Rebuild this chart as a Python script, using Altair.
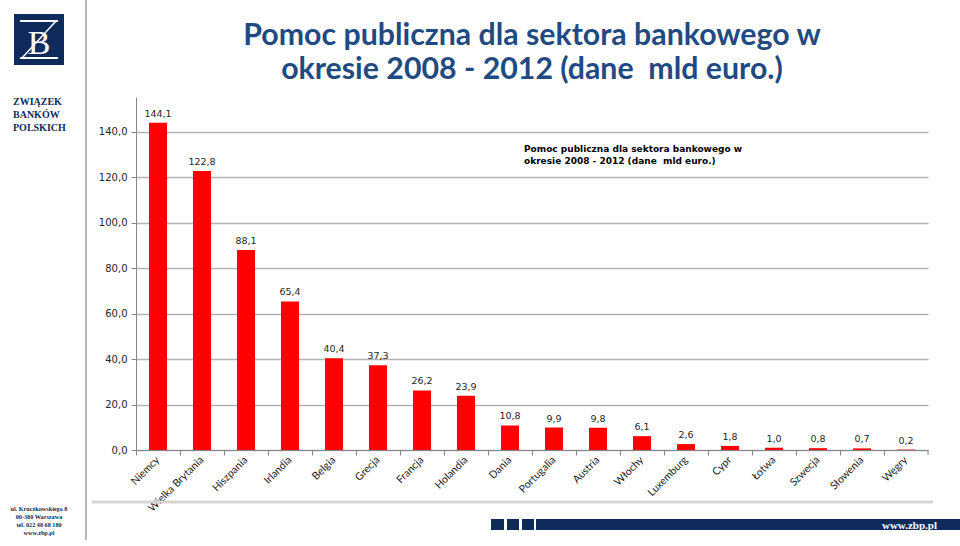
import altair as alt
import pandas as pd

countries = ["Niemcy", "Wielka Brytania", "Hiszpania", "Irlandia", "Belgia", "Grecja",
             "Francja", "Holandia", "Dania", "Portugalia", "Austria", "Włochy",
             "Luxemburg", "Cypr", "Łotwa", "Szwecja", "Słowenia", "Węgry"]
values = [144.1, 122.8, 88.1, 65.4, 40.4, 37.3, 26.2, 23.9, 10.8, 9.9, 9.8, 6.1,
          2.6, 1.8, 1.0, 0.8, 0.7, 0.2]
y_ticks = [0, 20, 40, 60, 80, 100, 120, 140]

title_lines = ["Pomoc publiczna dla sektora bankowego w",
               "okresie 2008 - 2012 (dane \u00a0mld euro.)"]
inner_title = ["Pomoc publiczna dla sektora bankowego w",
               "okresie 2008 - 2012 (dane \u00a0mld euro.)"]
org_lines = ["ZWIĄZEK", "BANKÓW", "POLSKICH"]
addr_lines = ["ul. Kruczkowskiego 8", "00-380 Warszawa", "tel. 022 48 68 180", "www.zbp.pl"]

df = pd.DataFrame({"kraj": countries, "v": values})

OX, OY = 136, 97          # plot origin on page
PW, PH = 792, 353         # plot size
NAVY = "#0f2b5b"
TITLE_C = "#1f4a82"

one = alt.Data(values=[{"a": 1}])


def txt(s, x, y, size, color="#000", font="DejaVu Sans", weight="normal",
        align="left", baseline="alphabetic", opacity=1.0):
    return alt.Chart(one).mark_text(
        font=font, fontSize=size, fontWeight=weight, color=color, align=align,
        baseline=baseline, opacity=opacity
    ).encode(x=alt.value(x - OX), y=alt.value(y - OY), text=alt.value(s))


def box(x1, y1, x2, y2, color):
    return alt.Chart(one).mark_rect(color=color).encode(
        x=alt.value(x1 - OX), x2=alt.value(x2 - OX),
        y=alt.value(y1 - OY), y2=alt.value(y2 - OY))


def line(x1, y1, x2, y2, color, w):
    return alt.Chart(one).mark_rule(color=color, strokeWidth=w).encode(
        x=alt.value(x1 - OX), x2=alt.value(x2 - OX),
        y=alt.value(y1 - OY), y2=alt.value(y2 - OY))


base = alt.Chart(df)

x_enc = alt.X("kraj:N", sort=None,
              scale=alt.Scale(paddingInner=0, paddingOuter=0),
              axis=alt.Axis(title=None, bandPosition=0, labelAngle=-45,
                            labelAlign="right", labelBaseline="middle",
                            labelPadding=3, labelFont="Lato", labelFontSize=10.5,
                            labelColor="#1a1a1a", tickSize=5, tickColor="#868686",
                            domainColor="#868686", labelOverlap=False, grid=False))
y_enc = alt.Y("v:Q", scale=alt.Scale(domain=[0, 155.4], nice=False, zero=True),
              axis=alt.Axis(title=None, values=y_ticks,
                            labelExpr="replace(format(datum.value, '.1f'), '.', ',')",
                            labelFont="DejaVu Sans", labelFontSize=10, labelColor="#262626",
                            labelPadding=4, tickSize=5, tickColor="#868686",
                            domainColor="#868686", grid=True, gridColor="#b4b4b4",
                            gridWidth=1.3))

bars = base.mark_bar(color="#ff0000", width=alt.RelativeBandSize(0.41)).encode(x=x_enc, y=y_enc)
labels = base.transform_calculate(
    lab="replace(format(datum.v, '.1f'), '.', ',')"
).mark_text(font="DejaVu Sans", fontSize=9.5, color="#262626", baseline="bottom", dy=-4).encode(
    x=alt.X("kraj:N", sort=None), y="v:Q", text="lab:N")

last_tick = line(OX + PW, OY + PH, OX + PW, OY + PH + 5, "#868686", 1)

layers = [bars, labels, last_tick]

# inner chart title
layers += [txt(inner_title[0], 524, 152, 9, weight="bold"),
           txt(inner_title[1], 524, 164, 9, weight="bold")]

# slide title
for s, yb in zip(title_lines, [45, 79]):
    layers.append(txt(s, 532, yb, 30.3, color=TITLE_C, font="Lato", weight="bold",
                      align="center"))

# left panel decorations
layers.append(line(86, 0, 86, 540, "#b8b8b8", 2))
layers.append(box(14, 14, 64, 65, NAVY))
layers.append(line(20, 21, 58, 21, "#ffffff", 2))
layers.append(line(20, 58, 58, 58, "#ffffff", 2))
layers.append(line(56, 21, 22, 58, "#ffffff", 1.5))
layers.append(txt("B", 39, 54, 34, color="#ffffff", font="Liberation Serif",
                  weight="normal", align="center"))
for s, yb in zip(org_lines, [105, 118, 131]):
    layers.append(txt(s, 13, yb, 10, color=NAVY, font="Liberation Serif", weight="bold"))
for s, yb in zip(addr_lines, [511, 519, 527, 535]):
    layers.append(txt(s, 39, yb, 6.2, color=NAVY, font="Liberation Serif", weight="bold",
                      align="center"))

# bottom separator and footer bar
layers.append(line(92, 502, 933, 502, "#d6d6d6", 3))
layers.append(box(491, 519, 504, 530, NAVY))
layers.append(box(507, 519, 519, 530, NAVY))
layers.append(box(522, 519, 534, 530, NAVY))
layers.append(box(536, 519, 960, 530, NAVY))
layers.append(txt("www.zbp.pl", 937, 529, 11, color="#ffffff", font="Liberation Serif",
                  weight="bold", align="right"))

chart = alt.layer(*layers).properties(
    width=PW, height=PH,
    autosize=alt.AutoSizeParams(type="none"),
    padding={"left": OX, "top": OY, "right": 960 - OX - PW, "bottom": 546 - OY - PH},
    background="#ffffff",
).configure_view(stroke=None)

chart.save("out.html", embed_options={"renderer": "svg", "actions": False})
